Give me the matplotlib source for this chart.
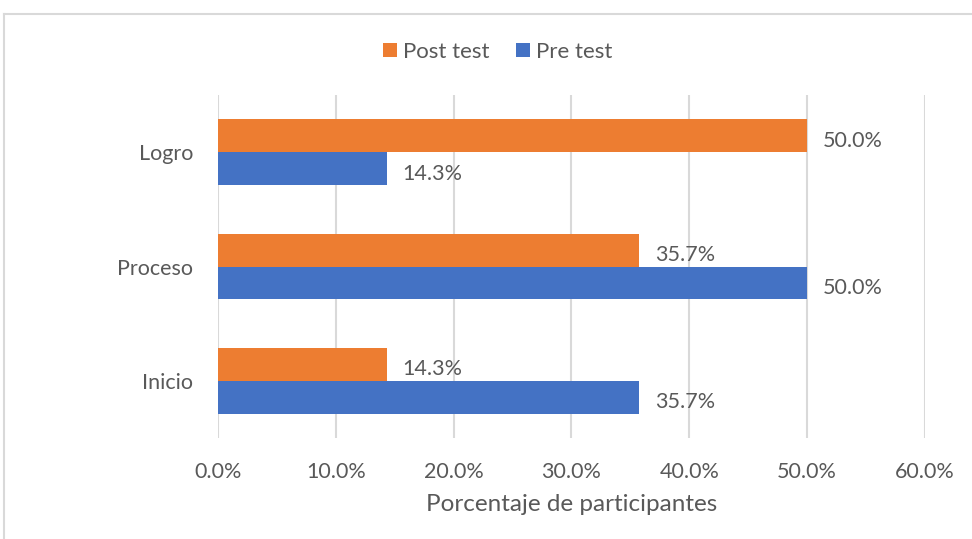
import numpy as np
import matplotlib
matplotlib.use('Agg')
import matplotlib.pyplot as plt
from matplotlib.lines import Line2D

categories = ['Inicio', 'Proceso', 'Logro']
post_test = [14.3, 35.7, 50.0]
pre_test = [35.7, 50.0, 14.3]
series_names = ['Post test', 'Pre test']
x_ticks = [0, 10, 20, 30, 40, 50, 60]

orange = '#ED7D31'
blue = '#4472C4'
txt = '#595959'

plt.rcParams['font.family'] = ['Lato', 'DejaVu Sans']

fig = plt.figure(figsize=(9.72, 5.39), dpi=100)
ax = fig.add_axes([0.2243, 0.1874, 0.9516 - 0.2243, 0.8237 - 0.1874])

y = np.arange(len(categories))
h = 0.288
b1 = ax.barh(y + h / 2, post_test, height=h, color=orange, label=series_names[0], zorder=3)
b2 = ax.barh(y - h / 2, pre_test, height=h, color=blue, label=series_names[1], zorder=3)

for bars, vals in [(b1, post_test), (b2, pre_test)]:
    for bar, v in zip(bars, vals):
        ax.annotate(f'{v:.1f}%', (v, bar.get_y() + bar.get_height() / 2),
                    xytext=(16, -5), textcoords='offset pixels',
                    ha='left', va='center', fontsize=15.5, color=txt)

ax.set_xlim(0, 60)
ax.set_ylim(-0.5, 2.5)
ax.set_xticks(x_ticks)
ax.set_xticklabels([f'{t:.1f}%' for t in x_ticks])
ax.set_yticks(y)
ax.set_yticklabels(categories)
ax.tick_params(axis='both', length=0, labelsize=15.5, labelcolor=txt)
ax.tick_params(axis='x', pad=17)
ax.tick_params(axis='y', pad=18)
ax.grid(axis='x', color='#D9D9D9', linewidth=1.5, zorder=0)
for s in ax.spines.values():
    s.set_visible(False)

ax.set_xlabel('Porcentaje de participantes', fontsize=17.5, color=txt, labelpad=9)

ax.legend(loc='center', ncol=2, frameon=False,
          fontsize=16, labelcolor=txt, handlelength=0.6, handleheight=0.6,
          handletextpad=0.3, columnspacing=1.2)
leg = ax.get_legend()
leg.set_bbox_to_anchor((498 / 972, 1 - 52 / 539), transform=fig.transFigure)

# outer chart border (partly cropped in the original)
fig.add_artist(Line2D([4 / 972, 1], [1 - 14 / 539, 1 - 14 / 539], transform=fig.transFigure,
                      color='#D9D9D9', linewidth=1.5))
fig.add_artist(Line2D([4 / 972, 4 / 972], [0, 1 - 14 / 539], transform=fig.transFigure,
                      color='#D9D9D9', linewidth=1.5))

fig.savefig('out.png', dpi=100)
